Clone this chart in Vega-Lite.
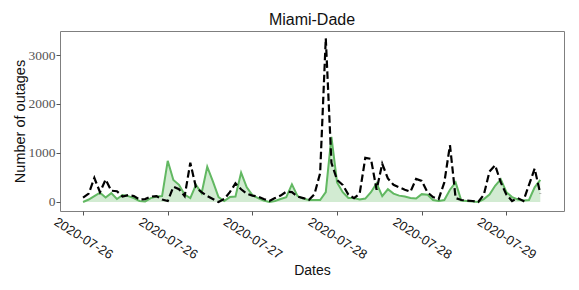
{
  "$schema": "https://vega.github.io/schema/vega-lite/v6.json",
  "autosize": {"type": "none"},
  "padding": {"left": 60, "top": 31, "right": 15, "bottom": 79},
  "width": 504,
  "height": 180,
  "background": "white",
  "config": {
    "view": {"stroke": "#7f7f7f", "strokeWidth": 1},
    "axis": {"grid": false, "domain": false, "tickColor": "#555", "tickSize": 4}
  },
  "title": {
    "text": "Miami-Dade",
    "font": "Liberation Sans",
    "fontSize": 16,
    "fontWeight": "normal",
    "color": "#111",
    "anchor": "middle",
    "offset": 3
  },
  "data": {
    "values": [
      {"t": "2020-07-26T06:00:00", "observed": 0, "predicted": 90},
      {"t": "2020-07-26T07:00:00", "observed": 50, "predicted": 170},
      {"t": "2020-07-26T08:00:00", "observed": 120, "predicted": 490},
      {"t": "2020-07-26T09:00:00", "observed": 190, "predicted": 200},
      {"t": "2020-07-26T10:00:00", "observed": 90, "predicted": 460},
      {"t": "2020-07-26T11:00:00", "observed": 180, "predicted": 230},
      {"t": "2020-07-26T12:00:00", "observed": 60, "predicted": 220},
      {"t": "2020-07-26T13:00:00", "observed": 140, "predicted": 110},
      {"t": "2020-07-26T14:00:00", "observed": 120, "predicted": 140},
      {"t": "2020-07-26T15:00:00", "observed": 80, "predicted": 120},
      {"t": "2020-07-26T16:00:00", "observed": 20, "predicted": 50},
      {"t": "2020-07-26T17:00:00", "observed": 10, "predicted": 60},
      {"t": "2020-07-26T18:00:00", "observed": 80, "predicted": 110},
      {"t": "2020-07-26T19:00:00", "observed": 110, "predicted": 120},
      {"t": "2020-07-26T20:00:00", "observed": 120, "predicted": 50},
      {"t": "2020-07-26T21:00:00", "observed": 840, "predicted": 20},
      {"t": "2020-07-26T22:00:00", "observed": 450, "predicted": 310},
      {"t": "2020-07-26T23:00:00", "observed": 350, "predicted": 260},
      {"t": "2020-07-27T00:00:00", "observed": 150, "predicted": 120},
      {"t": "2020-07-27T01:00:00", "observed": 80, "predicted": 800},
      {"t": "2020-07-27T02:00:00", "observed": 350, "predicted": 300},
      {"t": "2020-07-27T03:00:00", "observed": 180, "predicted": 200},
      {"t": "2020-07-27T04:00:00", "observed": 720, "predicted": 120},
      {"t": "2020-07-27T05:00:00", "observed": 420, "predicted": 60},
      {"t": "2020-07-27T06:00:00", "observed": 100, "predicted": 0},
      {"t": "2020-07-27T07:00:00", "observed": 20, "predicted": 60},
      {"t": "2020-07-27T08:00:00", "observed": 100, "predicted": 200},
      {"t": "2020-07-27T09:00:00", "observed": 110, "predicted": 380},
      {"t": "2020-07-27T10:00:00", "observed": 600, "predicted": 260},
      {"t": "2020-07-27T11:00:00", "observed": 300, "predicted": 170},
      {"t": "2020-07-27T12:00:00", "observed": 140, "predicted": 130},
      {"t": "2020-07-27T13:00:00", "observed": 80, "predicted": 110},
      {"t": "2020-07-27T14:00:00", "observed": 30, "predicted": 60},
      {"t": "2020-07-27T15:00:00", "observed": 0, "predicted": 20},
      {"t": "2020-07-27T16:00:00", "observed": 20, "predicted": 80},
      {"t": "2020-07-27T17:00:00", "observed": 60, "predicted": 130},
      {"t": "2020-07-27T18:00:00", "observed": 100, "predicted": 210},
      {"t": "2020-07-27T19:00:00", "observed": 360, "predicted": 200},
      {"t": "2020-07-27T20:00:00", "observed": 120, "predicted": 110},
      {"t": "2020-07-27T21:00:00", "observed": 70, "predicted": 80},
      {"t": "2020-07-27T22:00:00", "observed": 40, "predicted": 40},
      {"t": "2020-07-27T23:00:00", "observed": 40, "predicted": 160},
      {"t": "2020-07-28T00:00:00", "observed": 40, "predicted": 590},
      {"t": "2020-07-28T01:00:00", "observed": 200, "predicted": 3340},
      {"t": "2020-07-28T02:00:00", "observed": 1330, "predicted": 800},
      {"t": "2020-07-28T03:00:00", "observed": 400, "predicted": 450},
      {"t": "2020-07-28T04:00:00", "observed": 200, "predicted": 350},
      {"t": "2020-07-28T05:00:00", "observed": 80, "predicted": 150},
      {"t": "2020-07-28T06:00:00", "observed": 80, "predicted": 80},
      {"t": "2020-07-28T07:00:00", "observed": 50, "predicted": 170},
      {"t": "2020-07-28T08:00:00", "observed": 70, "predicted": 900},
      {"t": "2020-07-28T09:00:00", "observed": 200, "predicted": 880},
      {"t": "2020-07-28T10:00:00", "observed": 380, "predicted": 250},
      {"t": "2020-07-28T11:00:00", "observed": 120, "predicted": 780},
      {"t": "2020-07-28T12:00:00", "observed": 260, "predicted": 480},
      {"t": "2020-07-28T13:00:00", "observed": 170, "predicted": 350},
      {"t": "2020-07-28T14:00:00", "observed": 130, "predicted": 300},
      {"t": "2020-07-28T15:00:00", "observed": 110, "predicted": 250},
      {"t": "2020-07-28T16:00:00", "observed": 80, "predicted": 210},
      {"t": "2020-07-28T17:00:00", "observed": 70, "predicted": 470},
      {"t": "2020-07-28T18:00:00", "observed": 160, "predicted": 430},
      {"t": "2020-07-28T19:00:00", "observed": 150, "predicted": 200},
      {"t": "2020-07-28T20:00:00", "observed": 40, "predicted": 100},
      {"t": "2020-07-28T21:00:00", "observed": 20, "predicted": 60},
      {"t": "2020-07-28T22:00:00", "observed": 40, "predicted": 400},
      {"t": "2020-07-28T23:00:00", "observed": 250, "predicted": 1160},
      {"t": "2020-07-29T00:00:00", "observed": 400, "predicted": 80},
      {"t": "2020-07-29T01:00:00", "observed": 30, "predicted": 40},
      {"t": "2020-07-29T02:00:00", "observed": 20, "predicted": 30},
      {"t": "2020-07-29T03:00:00", "observed": 10, "predicted": 20},
      {"t": "2020-07-29T04:00:00", "observed": 0, "predicted": 0},
      {"t": "2020-07-29T05:00:00", "observed": 60, "predicted": 150},
      {"t": "2020-07-29T06:00:00", "observed": 150, "predicted": 620},
      {"t": "2020-07-29T07:00:00", "observed": 330, "predicted": 750},
      {"t": "2020-07-29T08:00:00", "observed": 460, "predicted": 400},
      {"t": "2020-07-29T09:00:00", "observed": 200, "predicted": 150},
      {"t": "2020-07-29T10:00:00", "observed": 100, "predicted": 20},
      {"t": "2020-07-29T11:00:00", "observed": 50, "predicted": 80},
      {"t": "2020-07-29T12:00:00", "observed": 30, "predicted": 20},
      {"t": "2020-07-29T13:00:00", "observed": 40, "predicted": 350},
      {"t": "2020-07-29T14:00:00", "observed": 300, "predicted": 680},
      {"t": "2020-07-29T15:00:00", "observed": 450, "predicted": 170}
    ]
  },
  "encoding": {
    "x": {
      "field": "t",
      "type": "temporal",
      "title": "Dates",
      "scale": {
        "domain": [
          {"year": 2020, "month": 7, "date": 26, "hours": 1, "minutes": 55},
          {"year": 2020, "month": 7, "date": 29, "hours": 19, "minutes": 12}
        ]
      },
      "axis": {
        "values": [
          {"year": 2020, "month": 7, "date": 26, "hours": 6},
          {"year": 2020, "month": 7, "date": 26, "hours": 21},
          {"year": 2020, "month": 7, "date": 27, "hours": 12},
          {"year": 2020, "month": 7, "date": 28, "hours": 3},
          {"year": 2020, "month": 7, "date": 28, "hours": 18},
          {"year": 2020, "month": 7, "date": 29, "hours": 9}
        ],
        "format": "%Y-%m-%d",
        "labelAngle": 32,
        "labelAlign": "center",
        "labelBaseline": "middle",
        "labelPadding": 23,
        "labelFont": "Liberation Sans",
        "labelFontSize": 13,
        "labelColor": "#111",
        "labelFlush": false,
        "labelOverlap": false,
        "titleFont": "Liberation Sans",
        "titleFontSize": 14,
        "titleFontWeight": "normal",
        "titleColor": "#111",
        "titlePadding": 2
      }
    }
  },
  "layer": [
    {
      "mark": {"type": "area", "color": "#d2ebd2", "opacity": 1},
      "encoding": {
        "y": {
          "field": "observed",
          "type": "quantitative",
          "title": "Number of outages",
          "scale": {"domain": [-184, 3490], "zero": false, "nice": false},
          "axis": {
            "values": [0, 1000, 2000, 3000],
            "format": "d",
            "labelFont": "Liberation Serif",
            "labelFontSize": 13.5,
            "labelColor": "#555",
            "labelPadding": 1,
            "titleFont": "Liberation Sans",
            "titleFontSize": 14.5,
            "titleFontWeight": "normal",
            "titleColor": "#111",
            "titlePadding": 1
          }
        },
        "y2": {"datum": 0}
      }
    },
    {
      "mark": {"type": "line", "color": "#62b862", "strokeWidth": 2},
      "encoding": {
        "y": {"field": "observed", "type": "quantitative"}
      }
    },
    {
      "mark": {"type": "line", "color": "#000000", "strokeWidth": 2.2, "strokeDash": [7.5, 3.5]},
      "encoding": {
        "y": {"field": "predicted", "type": "quantitative"}
      }
    }
  ]
}
